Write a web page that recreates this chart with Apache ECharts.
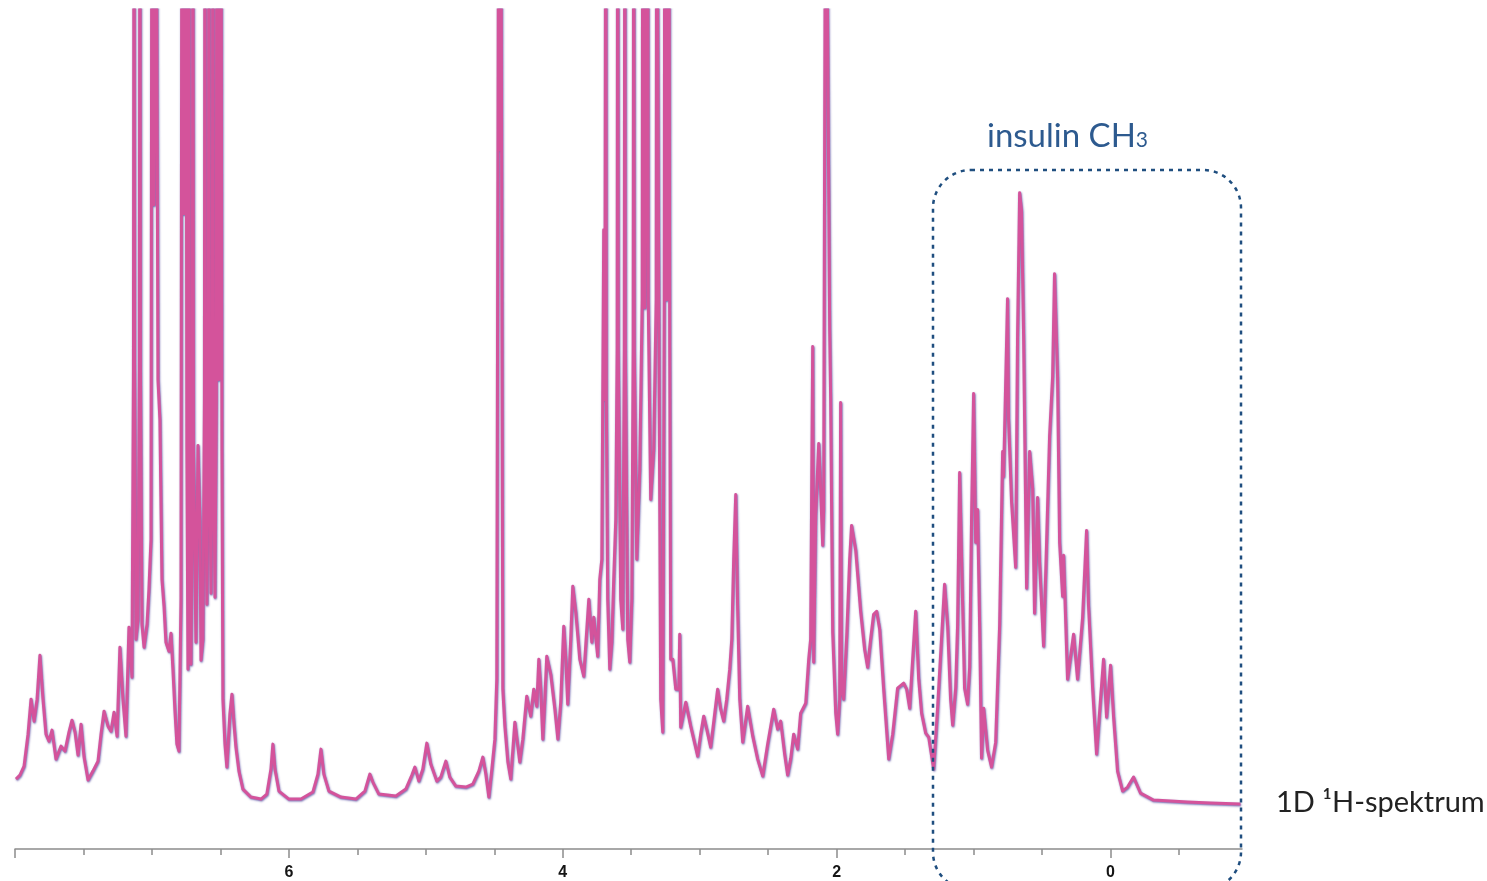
<!DOCTYPE html>
<html>
<head>
<meta charset="utf-8">
<script src="https://cdn.jsdelivr.net/npm/echarts@6/dist/echarts.min.js"></script>
<style>
html,body{margin:0;padding:0;background:#fff;}
#c{width:1487px;height:881px;}
</style>
</head>
<body>
<div id="c"></div>
<script>
// Spectrum: [chemical shift ppm, intensity (arbitrary units)]
// 8.0 - 6.4 ppm (aromatic region)
const aromatic = [
[7.993,70],[7.964,74],[7.934,83],[7.905,115],[7.883,150],[7.861,128],[7.839,150],[7.818,194],[7.796,150],[7.774,115],
[7.752,108],[7.730,119],[7.701,90],[7.664,103],[7.635,98],[7.606,117],[7.584,129],[7.562,117],[7.540,94],[7.518,125],
[7.496,92],[7.467,69],[7.431,78],[7.394,88],[7.372,115],[7.350,138],[7.321,123],[7.299,118],[7.277,137],[7.255,113],
[7.234,202],[7.212,150],[7.190,113],[7.168,222],[7.146,172],[7.135,480],[7.131,1100],[7.127,480],[7.117,210],[7.102,230],
[7.092,480],[7.088,1100],[7.084,480],[7.073,225],[7.058,202],[7.036,225],[7.022,260],[7.007,310],[7.000,1100],[6.985,645],
[6.971,1100],[6.956,470],[6.942,430],[6.927,270],[6.912,243],[6.898,207],[6.876,198],[6.861,216],[6.847,180],[6.832,138],
[6.818,105],[6.803,98],[6.788,250],[6.781,1100],[6.766,636],[6.752,1100],[6.745,400],[6.737,180],[6.734,400],[6.730,1100],
[6.726,400],[6.715,185],[6.705,400],[6.701,1100],[6.697,400],[6.679,207],[6.664,404],[6.650,330],[6.642,189],[6.628,210],
[6.617,450],[6.613,1100],[6.609,450],[6.599,245],[6.588,450],[6.584,1100],[6.580,450],[6.569,256],[6.559,450],[6.555,1100],
[6.551,450],[6.540,252],[6.530,450],[6.526,1100],[6.511,470],[6.496,1100],[6.489,400],[6.482,150],[6.467,105],[6.453,82],
[6.431,135],[6.416,155],[6.401,125],[6.387,102],[6.365,78]
];
// 6.4 - 4.4 ppm
const midfield = [
[6.336,60],[6.277,52],[6.204,50],[6.161,55],[6.131,80],[6.117,105],[6.102,80],[6.073,58],[6.000,50],[5.912,50],
[5.825,57],[5.788,75],[5.766,100],[5.745,75],[5.708,58],[5.620,52],[5.511,50],[5.445,58],[5.409,75],[5.387,67],
[5.343,55],[5.219,53],[5.146,60],[5.102,74],[5.080,82],[5.051,68],[5.022,80],[4.993,106],[4.964,85],[4.920,68],
[4.891,72],[4.854,88],[4.825,72],[4.781,63],[4.708,62],[4.657,65],[4.613,78],[4.584,92],[4.562,75],[4.540,52],
[4.518,80],[4.496,110],[4.482,170],[4.467,1100],[4.460,700],[4.453,1100],[4.438,160],[4.423,123],[4.401,87],[4.380,70]
];
// 4.4 - 1.3 ppm
const aliphatic = [
[4.350,127],[4.314,87],[4.292,110],[4.263,153],[4.234,133],[4.212,160],[4.190,143],[4.175,190],[4.161,160],[4.146,110],
[4.131,150],[4.117,193],[4.088,175],[4.058,140],[4.036,110],[4.015,147],[3.993,223],[3.978,190],[3.964,145],[3.942,210],
[3.927,263],[3.905,237],[3.876,190],[3.847,173],[3.810,250],[3.788,207],[3.774,232],[3.745,193],[3.730,270],[3.715,290],
[3.701,620],[3.693,450],[3.686,1100],[3.682,450],[3.672,250],[3.657,180],[3.642,207],[3.628,270],[3.613,330],[3.603,500],
[3.599,1100],[3.595,500],[3.577,250],[3.562,220],[3.551,500],[3.547,1100],[3.543,500],[3.526,210],[3.511,187],[3.496,250],
[3.486,500],[3.482,1100],[3.478,500],[3.460,290],[3.438,380],[3.420,550],[3.416,1100],[3.401,542],[3.380,1100],[3.376,550],
[3.358,350],[3.336,400],[3.318,550],[3.314,1100],[3.299,550],[3.285,150],[3.270,117],[3.259,550],[3.255,1100],[3.241,550],
[3.226,1100],[3.219,500],[3.212,190],[3.197,190],[3.175,160],[3.153,160],[3.146,215],[3.139,122],[3.102,147],[3.066,123],
[3.015,93],[2.993,115],[2.971,133],[2.949,120],[2.920,102],[2.891,135],[2.869,160],[2.847,140],[2.825,128],[2.803,150],
[2.781,180],[2.766,210],[2.752,290],[2.737,355],[2.723,240],[2.708,150],[2.686,107],[2.650,143],[2.613,113],[2.577,90],
[2.540,73],[2.504,105],[2.460,140],[2.431,120],[2.409,128],[2.380,95],[2.358,74],[2.336,90],[2.314,115],[2.285,100],
[2.263,136],[2.226,146],[2.204,190],[2.190,210],[2.175,503],[2.168,187],[2.153,335],[2.131,406],[2.117,360],[2.102,304],
[2.095,340],[2.080,1100],[2.066,1100],[2.051,520],[2.044,452],[2.029,217],[2.007,136],[1.993,115],[1.978,150],[1.971,447],
[1.964,160],[1.949,150],[1.927,212],[1.905,290],[1.891,324],[1.861,299],[1.825,238],[1.796,200],[1.774,182],[1.752,210],
[1.730,235],[1.708,238],[1.686,220],[1.657,160],[1.620,90],[1.591,115],[1.555,161],[1.511,166],[1.489,160],[1.467,141],
[1.445,190],[1.423,238],[1.401,170],[1.380,136],[1.350,116],[1.328,112]
];
// 1.3 - -1.0 ppm (insulin methyl region and baseline)
const methyl = [
[1.292,80],[1.263,141],[1.234,211],[1.212,265],[1.190,224],[1.168,150],[1.153,124],[1.131,161],[1.117,224],[1.102,377],
[1.080,244],[1.066,161],[1.044,145],[1.029,182],[1.015,330],[1.000,456],[0.985,307],[0.971,340],[0.956,224],[0.942,91],
[0.927,141],[0.898,99],[0.869,82],[0.839,107],[0.810,224],[0.788,398],[0.781,373],[0.752,551],[0.745,431],[0.723,348],
[0.693,282],[0.679,514],[0.664,657],[0.650,639],[0.635,514],[0.613,261],[0.591,398],[0.569,361],[0.555,236],[0.533,352],
[0.518,286],[0.489,203],[0.467,307],[0.445,414],[0.423,473],[0.409,576],[0.387,473],[0.372,307],[0.350,253],[0.343,294],
[0.314,170],[0.270,215],[0.241,170],[0.204,232],[0.175,319],[0.161,244],[0.131,161],[0.102,95],[0.073,150],[0.051,190],
[0.029,132],[0.000,184],[-0.022,132],[-0.051,78],[-0.088,58],[-0.124,62],[-0.168,72],[-0.219,56],[-0.314,49],[-0.438,48],
[-0.562,47],[-0.730,46],[-0.949,45]
];
// axis ticks and labels
const majorTicks = [8, 6, 4, 2, 0];
const minorTicks = [7.5, 7, 6.5, 5.5, 5, 4.5, 3.5, 3, 2.5, 1.5, 1, 0.5, -0.5];
const tickLabels = [6, 4, 2, 0];

const data = aromatic.concat(midfield, aliphatic, methyl);

const chart = echarts.init(document.getElementById('c'), null, {renderer: 'canvas'});
chart.setOption({
  animation: false,
  backgroundColor: '#ffffff',
  grid: {left: 15, right: 245, top: 10, bottom: 31, containLabel: false},
  xAxis: [{
    type: 'value', min: -0.96, max: 8, inverse: true, position: 'bottom',
    splitLine: {show: false},
    axisLine: {show: true, lineStyle: {color: '#8c8c8c', width: 1.5}},
    axisTick: {show: true, customValues: majorTicks, length: 9, lineStyle: {color: '#8c8c8c', width: 1.5}},
    axisLabel: {show: true, customValues: tickLabels, margin: 16, fontSize: 16, fontWeight: 'bold',
      color: '#151515', fontFamily: 'Liberation Sans, Arial, sans-serif'}
  }, {
    type: 'value', min: -0.96, max: 8, inverse: true, position: 'bottom', gridIndex: 0,
    splitLine: {show: false},
    axisLine: {show: false},
    axisTick: {show: true, customValues: minorTicks, length: 6, lineStyle: {color: '#8c8c8c', width: 1.5}},
    axisLabel: {show: false}
  }],
  yAxis: {type: 'value', min: 0, max: 840, show: false, splitLine: {show: false}},
  series: [{
    type: 'line', xAxisIndex: 0, data: data, showSymbol: false, symbol: 'none',
    smooth: false, clip: true,
    lineStyle: {color: '#d4539b', width: 3, join: 'round', shadowColor: 'rgba(95,85,165,0.85)', shadowBlur: 2, shadowOffsetX: 0.6, shadowOffsetY: 1},
    z: 2
  }],
  graphic: [{
    type: 'rect', z: 10,
    shape: {x: 933, y: 170, width: 308, height: 720, r: 38},
    style: {fill: 'none', stroke: '#1f4e7f', lineWidth: 2.5, lineDash: [4, 5]}
  }, {
    type: 'text', z: 10, x: 987, y: 120,
    style: {
      text: '{a|insulin CH}{b|3}',
      rich: {
        a: {fontSize: 33, fontFamily: 'Lato, Open Sans, sans-serif', fill: '#2d5a8f', color: '#2d5a8f', verticalAlign: 'bottom'},
        b: {fontSize: 21, fontFamily: 'Lato, Open Sans, sans-serif', fill: '#2d5a8f', color: '#2d5a8f', verticalAlign: 'bottom', padding: [0, 0, 2, 0]}
      }
    }
  }, {
    type: 'text', z: 10, x: 1276, y: 803,
    style: {
      text: '1D ¹H-spektrum',
      fontSize: 29, fontFamily: 'Lato, Open Sans, sans-serif', fill: '#222222',
      verticalAlign: 'middle', align: 'left'
    }
  }]
});
</script>
</body>
</html>
